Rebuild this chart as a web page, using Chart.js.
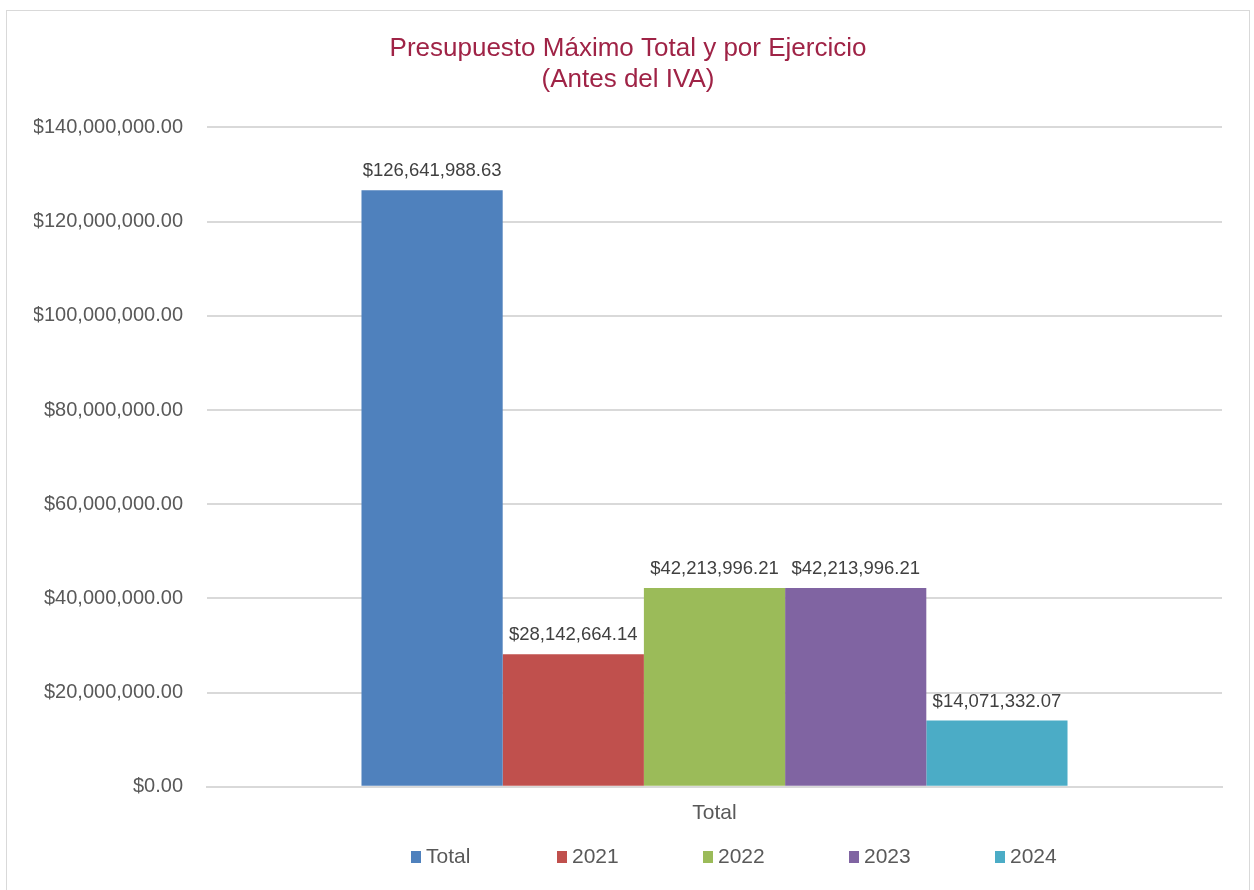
<!DOCTYPE html>
<html>
<head>
<meta charset="utf-8">
<script src="https://cdn.jsdelivr.net/npm/chart.js@4"></script>
<style>
  html, body { margin: 0; padding: 0; background: #fff; }
  .frame { position: absolute; left: 6px; top: 10px; width: 1242px; height: 900px; border: 1px solid #d9d9d9; }
  .frame canvas { display: block; }
</style>
</head>
<body>
<div class="frame"><canvas class="bars" width="1242" height="900"></canvas></div>
<script>
const categories = ['Total'];
const seriesNames = ['Total', '2021', '2022', '2023', '2024'];
const seriesValues = [126641988.63, 28142664.14, 42213996.21, 42213996.21, 14071332.07];
const seriesColors = ['#4F81BD', '#C0504D', '#9BBB59', '#8064A2', '#4BACC6'];
const yTicks = [0, 20000000, 40000000, 60000000, 80000000, 100000000, 120000000, 140000000];

const font = '"Liberation Sans", Arial, sans-serif';
const money = v => '$' + v.toLocaleString('en-US', { minimumFractionDigits: 2, maximumFractionDigits: 2 });

// labels above each bar
const valueLabels = {
  id: 'valueLabels',
  afterDatasetsDraw(chart) {
    const ctx = chart.ctx;
    ctx.save();
    ctx.font = '18.5px ' + font;
    ctx.fillStyle = '#404040';
    ctx.textAlign = 'center';
    ctx.textBaseline = 'alphabetic';
    chart.data.datasets.forEach((ds, i) => {
      chart.getDatasetMeta(i).data.forEach((bar, j) => {
        ctx.fillText(money(ds.data[j]), bar.x, bar.y - 14);
      });
    });
    ctx.restore();
  }
};

// legend with Excel-like even spacing
const spacedLegend = {
  id: 'spacedLegend',
  afterDraw(chart) {
    const ctx = chart.ctx;
    const area = chart.chartArea;
    const pitch = 146;
    let x = area.left + 204;
    const y = 846;
    ctx.save();
    ctx.font = '21px ' + font;
    ctx.textBaseline = 'middle';
    ctx.textAlign = 'left';
    chart.data.datasets.forEach(ds => {
      ctx.fillStyle = ds.backgroundColor;
      ctx.fillRect(x, y - 6, 10, 12);
      ctx.fillStyle = '#595959';
      ctx.fillText(ds.label, x + 15, y);
      x += pitch;
    });
    ctx.restore();
  }
};

const canvas = document.querySelector('.bars').getContext('2d');

const data = {
  labels: categories,
  datasets: seriesNames.map((name, i) => ({
    label: name,
    data: [seriesValues[i]],
    backgroundColor: seriesColors[i],
    borderWidth: 0,
    categoryPercentage: 0.6956,
    barPercentage: 1
  }))
};

const config = {
  type: 'bar',
  data: data,
  plugins: [valueLabels, spacedLegend],
  options: {
    responsive: false,
    animation: false,
    layout: {
      padding: { left: 27, right: 27, top: 0, bottom: 71 }
    },
    plugins: {
      legend: { display: false },
      tooltip: { enabled: false },
      title: {
        display: true,
        text: ['Presupuesto Máximo Total y por Ejercicio', '(Antes del IVA)'],
        color: '#9F2346',
        font: { family: font, size: 26, weight: 'normal', lineHeight: 1.2 },
        padding: { top: 22, bottom: 32 }
      }
    },
    scales: {
      x: {
        grid: { display: false, drawTicks: false },
        border: { display: true, color: '#d9d9d9', width: 2 },
        ticks: {
          color: '#595959',
          padding: 14,
          font: { family: font, size: 21 }
        }
      },
      y: {
        min: 0,
        max: 140000000,
        afterFit(scale) { scale.width = 173; },
        afterBuildTicks(scale) { scale.ticks = yTicks.map(v => ({ value: v })); },
        grid: { color: '#d9d9d9', lineWidth: 2, drawTicks: false },
        border: { display: false },
        ticks: {
          color: '#595959',
          padding: 24,
          font: { family: font, size: 20 },
          callback: v => money(v)
        }
      }
    }
  }
};

if (canvas) {
  new Chart(canvas, config);
}
</script>
</body>
</html>
